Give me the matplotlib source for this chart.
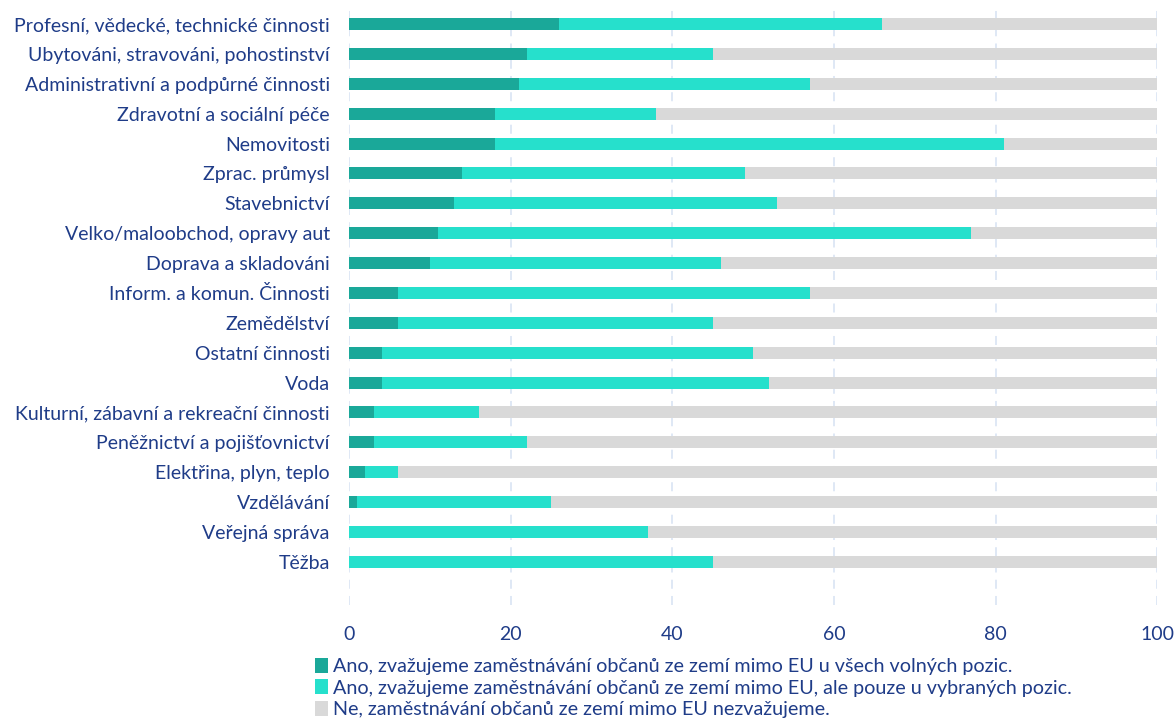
import numpy as np
import matplotlib.pyplot as plt

plt.rcParams['font.family'] = ['Lato', 'DejaVu Sans']

categories = ['Profesní, vědecké, technické činnosti', 'Ubytováni, stravováni, pohostinství',
              'Administrativní a podpůrné činnosti', 'Zdravotní a sociální péče', 'Nemovitosti',
              'Zprac. průmysl', 'Stavebnictví', 'Velko/maloobchod, opravy aut', 'Doprava a skladováni',
              'Inform. a komun. Činnosti', 'Zemědělství', 'Ostatní činnosti', 'Voda',
              'Kulturní, zábavní a rekreační činnosti', 'Peněžnictví a pojišťovnictví',
              'Elektřina, plyn, teplo', 'Vzdělávání', 'Veřejná správa', 'Těžba']
ano_vse = [26, 22, 21, 18, 18, 14, 13, 11, 10, 6, 6, 4, 4, 3, 3, 2, 1, 0, 0]
ano_vybrane = [40, 23, 36, 20, 63, 35, 40, 66, 36, 51, 39, 46, 48, 13, 19, 4, 24, 37, 45]
ne = [100 - a - b for a, b in zip(ano_vse, ano_vybrane)]

labels = ['Ano, zvažujeme zaměstnávání občanů ze zemí mimo EU u všech volných pozic.',
          'Ano, zvažujeme zaměstnávání občanů ze zemí mimo EU, ale pouze u vybraných pozic.',
          'Ne, zaměstnávání občanů ze zemí mimo EU nezvažujeme.']
colors = ['#1aa899', '#26e0cc', '#d9d9d9']
text_color = '#1f3c88'

fig = plt.figure(figsize=(11.76, 7.2), dpi=100)
ax = fig.add_axes([0.297, 0.16, 0.687, 0.826])

y = np.arange(len(categories))
a = np.array(ano_vse)
b = np.array(ano_vybrane)
c = np.array(ne)
h = 0.4
ax.barh(y, a, height=h, color=colors[0], label=labels[0], zorder=3)
ax.barh(y, b, left=a, height=h, color=colors[1], label=labels[1], zorder=3)
ax.barh(y, c, left=a + b, height=h, color=colors[2], label=labels[2], zorder=3)

ax.set_xlim(0, 100)
ax.set_ylim(19.44, -0.47)
ax.set_yticks(y)
ax.set_yticklabels(categories)
ax.set_xticks([0, 20, 40, 60, 80, 100])
ax.tick_params(axis='both', length=0, labelsize=14, colors=text_color)
ax.tick_params(axis='x', pad=15)
ax.tick_params(axis='y', pad=14)
for s in ax.spines.values():
    s.set_visible(False)
ax.grid(axis='x', color='#dce6f5', linestyle=(0, (5, 4)), linewidth=1.3, zorder=0)

leg = fig.legend(loc='upper left', bbox_to_anchor=(0.268, 1 - 658 / 720), frameon=False,
                 fontsize=14.2, handlelength=0.65, handleheight=0.8, handletextpad=0.25,
                 labelspacing=0.2, borderaxespad=0, borderpad=0)
for t in leg.get_texts():
    t.set_color(text_color)

plt.savefig('out.png', dpi=100)
